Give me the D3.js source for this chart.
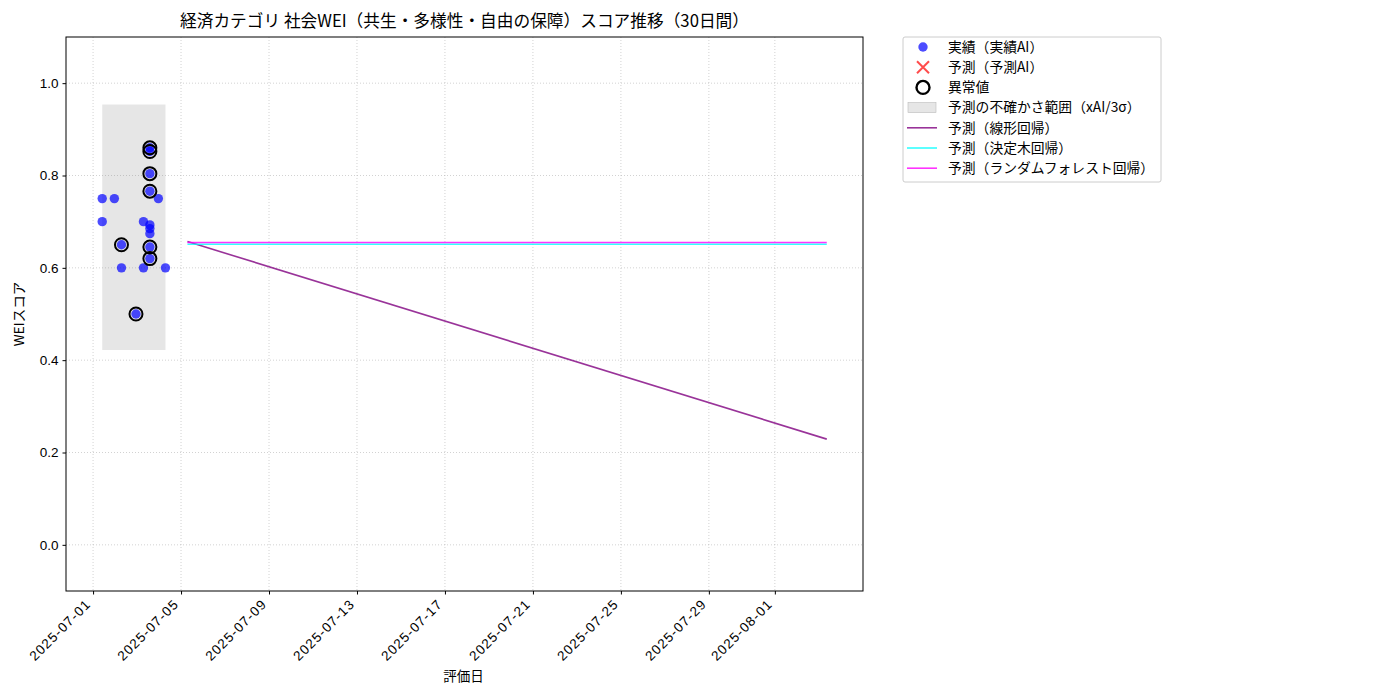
<!DOCTYPE html>
<html>
<head>
<meta charset="utf-8">
<script src="https://cdn.jsdelivr.net/npm/d3@7"></script>
<style>
  body { margin: 0; background: #fff; }
  svg { font-family: "Noto Sans CJK JP", "Noto Sans", sans-serif; }
  .tick text { font-size: 13.5px; fill: #000; }
  .x-ticks .tick text { letter-spacing: 1.1px; }
</style>
</head>
<body>
<div id="chart"></div>
<script>
// actual scores (実績AI)
const actualDates = [
  "2025-07-01T10:00", "2025-07-01T10:00", "2025-07-01T23:15",
  "2025-07-02T07:00", "2025-07-02T07:00", "2025-07-02T22:50",
  "2025-07-03T07:00", "2025-07-03T07:00",
  "2025-07-03T14:00", "2025-07-03T14:00", "2025-07-03T14:00", "2025-07-03T14:00",
  "2025-07-03T14:00", "2025-07-03T14:00", "2025-07-03T14:00", "2025-07-03T14:00",
  "2025-07-03T14:00",
  "2025-07-03T23:15", "2025-07-04T07:00"
];
const actualValues = [
  0.75, 0.70, 0.75,
  0.65, 0.60, 0.50,
  0.70, 0.60,
  0.86, 0.852, 0.804, 0.766,
  0.693, 0.685, 0.674, 0.645,
  0.62,
  0.75, 0.60
];
const anomalyFlags = [
  0, 0, 0,
  1, 0, 1,
  0, 0,
  1, 1, 1, 1,
  0, 0, 0, 1,
  1,
  0, 0
];
// predicted AI scores (none shown)
const predAIDates = [];
const predAIValues = [];

// uncertainty band (xAI / 3σ)
const bandDates = ["2025-07-01T10:00", "2025-07-04T07:00"];
const bandLower = [0.422, 0.422];
const bandUpper = [0.954, 0.954];

// regression forecasts
const forecastDates = ["2025-07-05T07:00", "2025-08-03T08:40"];
const linearValues = [0.657, 0.229];
const treeValues = [0.651, 0.651];
const forestValues = [0.655, 0.655];

const xTickLabels = ["2025-07-01", "2025-07-05", "2025-07-09", "2025-07-13", "2025-07-17",
                     "2025-07-21", "2025-07-25", "2025-07-29", "2025-08-01"];
const yTicks = [0.0, 0.2, 0.4, 0.6, 0.8, 1.0];

const W = 1400, H = 700;
const margin = { top: 37, right: 537, bottom: 109, left: 66 };
const width = W - margin.left - margin.right;
const height = H - margin.top - margin.bottom;

const parse = d3.timeParse("%Y-%m-%dT%H:%M");
const parseDay = d3.timeParse("%Y-%m-%d");

const svg = d3.select("#chart").append("svg")
  .attr("width", W).attr("height", H);
const g = svg.append("g").attr("transform", `translate(${margin.left},${margin.top})`);

// x domain with 5% padding like matplotlib
const allDates = actualDates.concat(forecastDates).map(parse);
const [dMin, dMax] = d3.extent(allDates);
const pad = (dMax - dMin) * 0.05;
const x = d3.scaleTime()
  .domain([new Date(+dMin - pad), new Date(+dMax + pad)])
  .range([0, width]);
const y = d3.scaleLinear().domain([-0.1, 1.1]).range([height, 0]);

// grid
const xTickDates = xTickLabels.map(parseDay);
g.append("g").selectAll("line").data(xTickDates).join("line")
  .attr("x1", d => x(d)).attr("x2", d => x(d))
  .attr("y1", 0).attr("y2", height)
  .attr("stroke", "#b0b0b0").attr("stroke-width", 0.8)
  .attr("stroke-dasharray", "1,2").attr("opacity", 0.7);
g.append("g").selectAll("line").data(yTicks).join("line")
  .attr("x1", 0).attr("x2", width)
  .attr("y1", d => y(d)).attr("y2", d => y(d))
  .attr("stroke", "#b0b0b0").attr("stroke-width", 0.8)
  .attr("stroke-dasharray", "1,2").attr("opacity", 0.7);

// uncertainty band
const band = bandDates.map((d, i) => ({ date: parse(d), lo: bandLower[i], hi: bandUpper[i] }));
g.append("path").datum(band)
  .attr("fill", "gray").attr("fill-opacity", 0.2)
  .attr("d", d3.area().x(d => x(d.date)).y0(d => y(d.lo)).y1(d => y(d.hi)));

// forecast lines
const lineGen = d3.line().x(d => x(d.date)).y(d => y(d.v));
function drawLine(vals, color) {
  const pts = forecastDates.map((d, i) => ({ date: parse(d), v: vals[i] }));
  g.append("path").datum(pts)
    .attr("fill", "none").attr("stroke", color).attr("stroke-width", 1.6)
    .attr("stroke-opacity", 0.8).attr("d", lineGen);
}
drawLine(linearValues, "purple");
drawLine(treeValues, "cyan");
drawLine(forestValues, "magenta");

// actual points
const pts = actualDates.map((d, i) => ({ date: parse(d), v: actualValues[i], anom: anomalyFlags[i] }));
g.append("g").selectAll("circle").data(pts).join("circle")
  .attr("cx", d => x(d.date)).attr("cy", d => y(d.v)).attr("r", 4.7)
  .attr("fill", "blue").attr("fill-opacity", 0.7);

// predicted AI points (x markers)
g.append("g").selectAll("path").data(predAIDates.map((d, i) => ({ date: parse(d), v: predAIValues[i] })))
  .join("path")
  .attr("d", d => `M${x(d.date) - 5},${y(d.v) - 5}L${x(d.date) + 5},${y(d.v) + 5}M${x(d.date) - 5},${y(d.v) + 5}L${x(d.date) + 5},${y(d.v) - 5}`)
  .attr("stroke", "red").attr("stroke-opacity", 0.7).attr("stroke-width", 2);

// anomalies
g.append("g").selectAll("circle").data(pts.filter(d => d.anom)).join("circle")
  .attr("cx", d => x(d.date)).attr("cy", d => y(d.v)).attr("r", 6.5)
  .attr("fill", "none").attr("stroke", "black").attr("stroke-width", 2);

// axes
const xAxis = g.append("g").attr("class", "x-ticks").attr("transform", `translate(0,${height})`)
  .call(d3.axisBottom(x).tickValues(xTickDates).tickFormat(d3.timeFormat("%Y-%m-%d"))
    .tickSize(3.5));
xAxis.select(".domain").remove();
xAxis.selectAll(".tick text")
  .attr("x", 0).attr("y", 0).attr("dy", 0)
  .attr("text-anchor", "end")
  .attr("transform", "translate(-2,14) rotate(-45)");

const yAxis = g.append("g")
  .call(d3.axisLeft(y).tickValues(yTicks).tickFormat(d3.format(".1f")).tickSize(3.5).tickPadding(4));
yAxis.select(".domain").remove();

g.append("rect").attr("width", width).attr("height", height)
  .attr("fill", "none").attr("stroke", "#000").attr("stroke-width", 1);

// labels
svg.append("text").attr("x", margin.left + width / 2).attr("y", 27)
  .attr("text-anchor", "middle").attr("font-size", 16.7)
  .text("経済カテゴリ 社会WEI（共生・多様性・自由の保障）スコア推移（30日間）");
svg.append("text").attr("x", margin.left + width / 2 - 1).attr("y", 681)
  .attr("text-anchor", "middle").attr("font-size", 13.5).text("評価日");
svg.append("text").attr("transform", `translate(24,${margin.top + height / 2}) rotate(-90)`)
  .attr("text-anchor", "middle").attr("font-size", 13.5).text("WEIスコア");

// legend
const legend = svg.append("g").attr("transform", "translate(903,37)");
legend.append("rect").attr("width", 258).attr("height", 145).attr("rx", 2)
  .attr("fill", "#fff").attr("stroke", "#ccc");
const items = [
  { type: "dot", label: "実績（実績AI）" },
  { type: "x", label: "予測（予測AI）" },
  { type: "ring", label: "異常値" },
  { type: "patch", label: "予測の不確かさ範囲（xAI/3σ）" },
  { type: "line", color: "purple", label: "予測（線形回帰）" },
  { type: "line", color: "cyan", label: "予測（決定木回帰）" },
  { type: "line", color: "magenta", label: "予測（ランダムフォレスト回帰）" }
];
items.forEach((it, i) => {
  const cy = 10 + i * 20.2;
  const row = legend.append("g").attr("transform", `translate(0,${cy})`);
  if (it.type === "dot") {
    row.append("circle").attr("cx", 20).attr("cy", 0).attr("r", 4.7).attr("fill", "blue").attr("fill-opacity", 0.7);
  } else if (it.type === "x") {
    row.append("path").attr("d", "M14,-6L26,6M14,6L26,-6").attr("stroke", "red")
      .attr("stroke-opacity", 0.7).attr("stroke-width", 2);
  } else if (it.type === "ring") {
    row.append("circle").attr("cx", 20).attr("cy", 0).attr("r", 6.5)
      .attr("fill", "none").attr("stroke", "black").attr("stroke-width", 2.4);
  } else if (it.type === "patch") {
    row.append("rect").attr("x", 5).attr("y", -5).attr("width", 28).attr("height", 10)
      .attr("fill", "gray").attr("fill-opacity", 0.2)
      .attr("stroke", "#bbb").attr("stroke-width", 0.6);
  } else {
    row.append("line").attr("x1", 4).attr("x2", 34).attr("y1", 0).attr("y2", 0)
      .attr("stroke", it.color).attr("stroke-width", 1.6).attr("stroke-opacity", 0.8);
  }
  row.append("text").attr("x", 45).attr("y", 0).attr("dy", "0.35em")
    .attr("font-size", 13.8).text(it.label);
});
</script>
</body>
</html>
